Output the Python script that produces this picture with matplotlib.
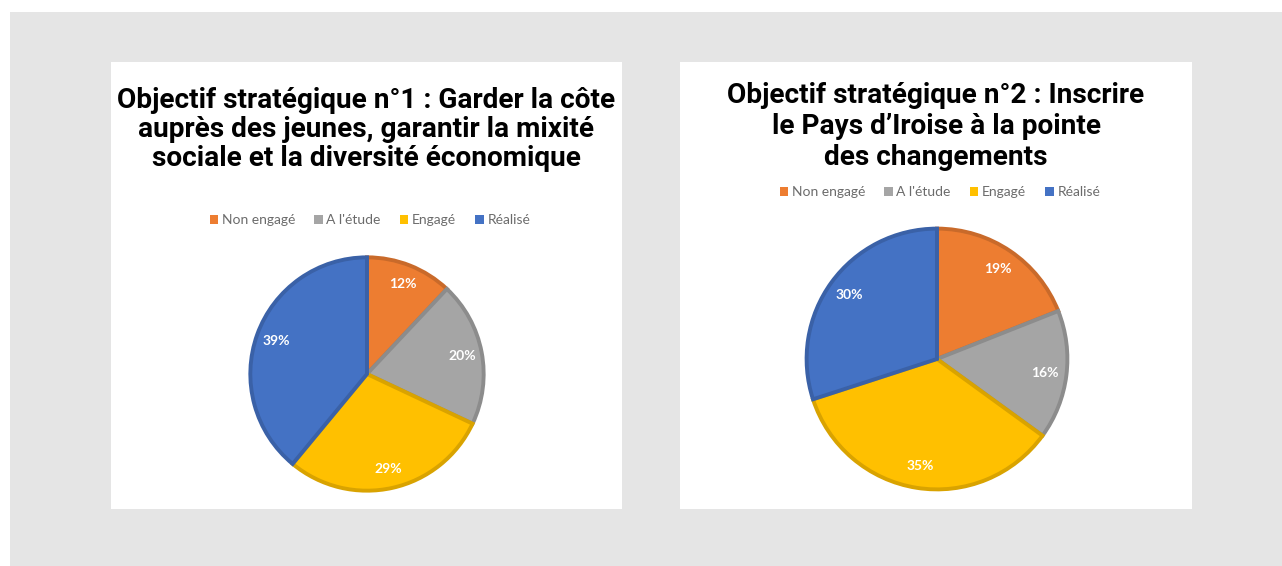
import matplotlib.pyplot as plt
from matplotlib.patches import Rectangle, Patch
from matplotlib.colors import to_rgb

W, H = 1282, 566

# data
categories = ['Non engagé', "A l'étude", 'Engagé', 'Réalisé']
colors = ['#ED7D31', '#A5A5A5', '#FFC000', '#4472C4']
obj1_values = [12, 20, 29, 39]
obj2_values = [19, 16, 35, 30]
obj1_title = ['Objectif stratégique n°1 : Garder la côte',
              'auprès des jeunes, garantir la mixité',
              'sociale et la diversité économique']
obj2_title = ['Objectif stratégique n°2 : Inscrire',
              'le Pays d\u2019Iroise à la pointe',
              'des changements']

title_font = ['Roboto', 'DejaVu Sans']
label_font = ['Lato', 'DejaVu Sans']


def fx(x):
    return x / W


def fy(y):
    return 1 - y / H


def darker(c, f=0.85):
    r, g, b = to_rgb(c)
    return (r * f, g * f, b * f)


fig = plt.figure(figsize=(W / 100, H / 100), dpi=100)
fig.patch.set_facecolor('white')

# grey page background and white panels
fig.patches.append(Rectangle((fx(10), 0), 1 - fx(10), fy(12), transform=fig.transFigure,
                             facecolor='#E5E5E5', edgecolor='none', zorder=0))
for x0, x1 in [(111, 622), (680, 1192)]:
    fig.patches.append(Rectangle((fx(x0), fy(509)), fx(x1) - fx(x0), fy(62) - fy(509),
                                 transform=fig.transFigure, facecolor='white',
                                 edgecolor='none', zorder=1))


def draw_panel(values, title_lines, title_x, title_baselines, legend_x, legend_y, cx, cy, r, pct_dist):
    for line, yb in zip(title_lines, title_baselines):
        fig.text(fx(title_x), fy(yb), line, ha='center', va='baseline', fontsize=20.2,
                 fontweight='bold', family=title_font, color='black', zorder=5)

    ax = fig.add_axes([fx(cx - r), fy(cy + r), 2 * r / W, 2 * r / H])
    ax.set_zorder(3)
    wedges, texts = ax.pie(values, colors=colors, startangle=90, counterclock=False,
                           labels=[f'{v}%' for v in values], labeldistance=pct_dist,
                           wedgeprops=dict(linewidth=2.8),
                           textprops=dict(color='white', fontsize=10, fontweight='bold',
                                          family=label_font, ha='center', va='center'))
    for w, c in zip(wedges, colors):
        w.set_edgecolor(darker(c))
    for t in texts:
        t.set_horizontalalignment('center')
    ax.set_xlim(-1.02, 1.02)
    ax.set_ylim(-1.02, 1.02)
    ax.set_aspect('equal')
    ax.axis('off')

    handles = [Patch(facecolor=c, edgecolor='none') for c in colors]
    leg = ax.legend(handles, categories, loc='center', ncol=4, frameon=False,
                    bbox_to_anchor=(fx(legend_x), fy(legend_y)), bbox_transform=fig.transFigure,
                    handlelength=0.6, handleheight=0.6, handletextpad=0.25,
                    columnspacing=1.4, prop=dict(family=label_font, size=10))
    for t in leg.get_texts():
        t.set_color('#6B6B6B')


draw_panel(obj1_values, obj1_title, 366, [108, 137, 166], 370, 220, 367, 374, 119, 0.83)
draw_panel(obj2_values, obj2_title, 936, [103, 134, 165], 940, 192, 937, 359, 133, 0.83)

fig.savefig('out.png', dpi=100, facecolor=fig.get_facecolor())
